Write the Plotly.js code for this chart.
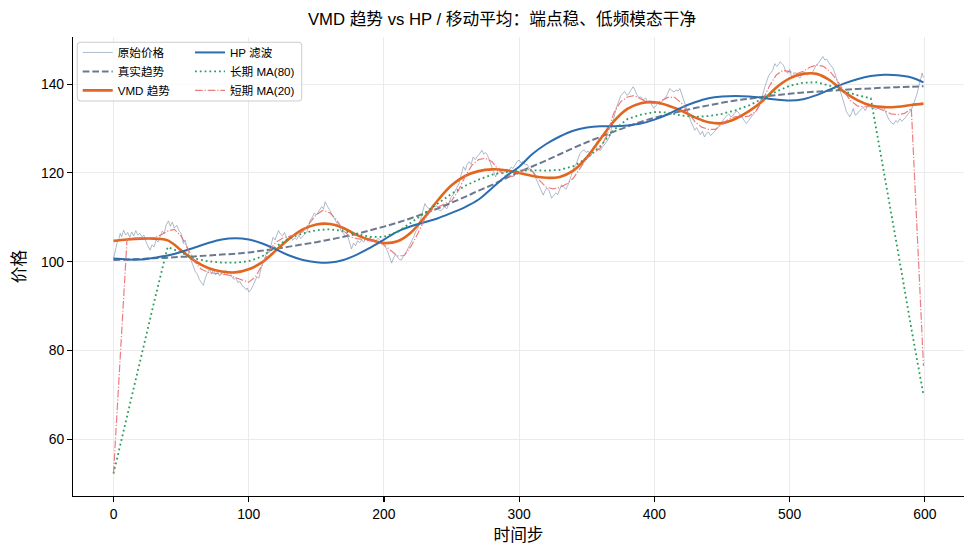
<!DOCTYPE html>
<html>
<head>
<meta charset="utf-8">
<script src="https://cdn.plot.ly/plotly-3.0.1.min.js"></script>
<style>
  html, body { margin: 0; padding: 0; background: #fff; }
  #chart { width: 975px; height: 557px; }
</style>
</head>
<body>
<div id="chart"></div>
<script>
// ---------------- data ----------------
const smoothT = [0,10,20,30,40,50,60,70,80,90,100,110,120,130,140,150,160,170,180,190,200,210,220,230,240,250,260,270,280,290,300,310,320,330,340,350,360,370,380,390,400,410,420,430,440,450,460,470,480,490,500,510,520,530,540,550,560,570,580,590,599];

const trueTrend = [100.4,100.5,100.6,100.8,100.9,101.1,101.2,101.4,101.6,101.8,102.1,102.5,102.9,103.4,103.9,104.4,105.0,105.6,106.3,107.1,107.9,108.8,109.8,110.9,112.0,113.3,114.6,116.0,117.3,118.8,120.2,121.5,122.8,124.2,125.6,126.9,128.1,129.3,130.4,131.5,132.4,133.2,133.9,134.6,135.2,135.8,136.3,136.7,137.1,137.5,137.8,138.1,138.3,138.5,138.7,138.9,139.0,139.2,139.3,139.4,139.5];

const vmdTrend = [104.7,105.0,105.2,105.2,104.8,102.6,100.2,98.6,97.8,97.6,98.3,99.9,102.5,105.2,107.3,108.4,108.5,107.6,106.0,104.9,104.2,104.6,106.6,110.0,113.9,117.2,119.3,120.4,120.8,120.6,120.0,119.3,118.9,119.1,120.5,123.5,127.6,131.6,134.4,135.7,135.9,135.2,134.0,132.5,131.4,131.2,132.2,133.9,136.2,139.2,141.3,142.3,142.3,140.8,138.3,136.4,135.2,134.8,134.9,135.3,135.6];

const hpFilter = [100.7,100.5,100.5,100.9,101.4,102.2,103.2,104.2,105.0,105.3,105.0,104.1,102.8,101.4,100.4,99.9,99.8,100.4,101.6,103.2,105.0,106.8,108.0,108.9,109.8,111.0,112.3,114.0,116.6,119.2,121.4,124.3,126.5,128.2,129.5,130.2,130.5,130.5,130.7,131.1,132.0,133.2,134.7,135.9,136.8,137.2,137.3,137.2,136.9,136.5,136.3,136.6,137.5,138.8,140.1,141.1,141.8,142.1,142.0,141.5,140.4];

const ma80T = [0,10,20,30,40,50,60,70,80,90,100,110,120,130,140,150,160,170,180,190,200,210,220,230,240,250,260,270,280,290,300,310,320,330,340,350,360,370,380,390,400,410,420,430,440,450,460,470,480,490,500,510,520,530,540,550,560,570,580,590,599];
const ma80 = [52.3,65.3,78.2,90.9,103.3,102.1,100.7,100.1,99.8,99.8,100.1,101.2,103.4,105.3,106.4,107.1,107.3,106.9,106.2,105.6,105.6,106.7,108.8,111.0,113.1,115.3,117.1,118.5,119.6,120.2,120.5,120.6,120.5,120.7,121.5,123.3,126.0,129.7,132.1,133.1,133.7,133.6,132.9,132.6,132.8,133.3,134.1,135.2,136.7,138.3,139.6,140.3,140.4,139.6,138.4,137.5,136.8,119.9,102.5,85.0,70.0];

const ma20T = [0,5,10,15,20,25,30,35,40,45,50,55,60,65,70,75,80,85,90,95,100,105,110,115,120,125,130,135,140,145,150,155,160,165,170,175,180,185,190,195,200,205,210,215,220,225,230,235,240,245,250,255,260,265,270,275,280,285,290,295,300,305,310,315,320,325,330,335,340,345,350,355,360,365,370,375,380,385,390,395,400,405,410,415,420,425,430,435,440,445,450,455,460,465,470,475,480,485,490,495,500,505,510,515,520,525,530,535,540,545,550,555,560,565,570,575,580,585,590,599];
const ma20 = [52.3,78.7,105.0,105.3,105.3,105.3,105.4,106.0,106.9,107.3,105.8,102.9,100.0,98.3,97.6,97.4,97.3,97.0,96.4,95.9,95.4,96.6,99.3,102.4,104.4,105.3,105.7,106.0,106.8,108.8,110.6,111.6,111.0,109.4,107.0,105.6,105.2,105.0,104.8,104.5,103.8,102.5,101.3,101.4,103.5,106.3,109.6,111.6,112.3,112.9,113.7,116.0,119.2,121.7,123.0,123.3,122.5,120.6,119.3,119.2,119.9,120.9,120.3,118.3,116.8,116.4,116.7,117.5,118.8,121.0,123.3,124.5,125.6,128.5,133.5,136.0,137.1,137.4,136.6,135.9,135.6,136.2,137.0,137.0,135.7,133.5,131.5,130.3,129.8,129.8,130.9,132.1,132.7,132.6,132.8,133.8,136.3,139.5,142.0,143.1,142.8,142.3,142.9,143.8,144.3,144.0,142.8,140.9,138.4,136.3,135.1,134.9,134.9,134.6,134.0,133.3,133.1,133.4,134.5,76.5];

const rawT = [0,1.5,2.5,4,5,6,7.5,9,10.5,12,13.5,15,16.5,18,19.5,21,22.5,24,25.5,27,28.5,30,31.5,33,34.5,36,37.5,39,40.7,42,43.5,45,46.8,48.5,50,51.7,53,54.5,56,57.5,59,60.5,62,63.5,65,66.5,68,69.5,71,72.5,74,75.5,77,78.5,80,81.5,83,84.5,86,87.5,89,90.5,92,93.5,95,96.5,98,99,100,101.5,103,104.5,106,107.5,109,110.5,112,113.5,115,116.5,118,119.5,121,122,123.5,125,126.5,128,129.5,131,132.5,134,135.5,137,138.5,140,141.5,143,144.5,145.5,147,148.5,150,151.5,153,154,155.3,156.5,158,159.5,161,162.5,164,165.5,167,168.5,170,171.5,173,174.5,176,177.5,179,180.5,182,183.5,185,186.5,188,189.5,191,192.5,194,195.5,197,198.5,200,201.5,203,204.5,205.7,207,208.5,210,211.5,213,214.5,216,217.5,219,220.5,222,223.5,225,226.6,228,229.3,230.3,231.5,233,234.5,236,237.5,239,240.5,242,243.5,245,246.5,248,249.5,251,252.5,254,255.5,257,258.8,260.2,261.5,263,264.5,266,267.5,269,270.5,272.4,273.8,275,276.5,278,279.5,281,282.6,284,285,286.5,288,289.5,291,292.5,294,295.5,297,298.5,300,301.5,303,304.5,306,307.5,309,310.5,312,313.5,315,316.5,317.8,319,320.5,322,323,324,325.5,327,328.5,330,331.3,333,334.5,336,337.5,339,340.5,342,343.5,345,346.5,348,349.5,351,352.5,354,355.5,357,358.5,360,361.5,363,364.5,366,367.3,368.5,369.7,371,372,373.5,375,376.5,378,379.5,381,382.5,384.3,385.5,387,388.5,390,391.7,393.5,395,396.6,398,399.5,401,402.5,404,405.5,407,408.5,410,411.4,413,414.5,416,417.5,418.8,420,421.2,422.5,424,425.5,427,428.5,429.8,431.2,432.5,434,435.5,437,438.5,440,441.5,443,444.5,446,447.5,449,450.5,452,453.5,455,456.5,458,459.5,461,462.5,464,465.5,467,468,469.5,471,472.5,474,475.5,477,478.5,480,481.5,483,484.5,486,487.5,489,490.5,492,493,494.5,495.5,497,498.5,500,501.5,503,504.5,506,507.5,509,510.5,512,513.5,515,516.5,518,519.7,521,522,523.3,524.6,526,527.5,529,530.5,532,533.5,535,536.5,538,539.5,541,542,543.5,544.5,546,547,548.5,550,551.5,553,554.3,556,557.5,559,560.5,562,563.5,565,566.5,568,569.5,571,572.5,574,575.5,577,578.5,580,581.5,583,584.5,586,587.6,589,590.5,591.5,592.5,593.8,595,596.2,597,598,599];
const rawPrice = [100.7,102.6,104.1,105.2,106.4,105.6,107.1,106.0,106.6,105.5,106.7,105.8,107.0,106.0,106.4,105.6,106.0,104.5,103.4,102.6,103.8,103.3,104.9,104.4,105.6,106.9,106.4,108.3,109.2,108.0,108.9,107.6,108.2,106.9,106.4,104.1,104.9,102.8,101.4,100.2,99.1,97.8,97.2,96.0,95.3,94.7,96.4,97.6,98.3,97.2,98.3,97.0,97.8,96.8,97.5,97.0,98.1,97.3,97.9,96.6,96.0,96.4,95.3,95.6,94.6,94.3,93.7,94.1,93.2,93.6,94.5,95.6,96.6,96.3,98.4,99.6,100.8,102.3,102.0,103.6,105.5,104.9,106.1,107.0,106.2,105.8,106.6,105.4,105.0,105.9,104.8,105.4,105.0,105.9,105.2,105.7,106.3,106.7,108.2,109.4,109.9,111.0,110.5,111.2,112.0,112.4,111.9,113.5,112.6,111.6,111.0,110.2,109.2,108.5,107.9,106.8,106.5,105.6,105.9,104.6,102.9,104.2,103.6,104.7,104.3,104.9,104.4,105.3,104.6,105.5,104.8,105.1,104.6,105.3,104.8,104.5,103.7,103.1,102.1,100.9,99.7,100.8,101.6,101.0,100.5,100.4,101.4,101.9,102.8,103.6,104.7,105.6,106.8,107.4,109.0,110.4,111.6,113.1,112.4,112.0,111.7,112.8,112.4,112.6,111.7,111.4,112.0,112.4,111.9,113.3,114.4,115.0,115.8,116.6,117.6,119.5,121.4,120.6,121.9,122.5,121.9,123.6,123.0,123.7,124.2,125.1,124.2,124.6,124.0,122.8,121.5,120.2,119.1,120.3,121.0,120.4,119.8,120.6,120.9,120.5,121.3,121.0,121.8,122.6,122.9,122.2,122.6,121.8,121.9,121.0,120.8,120.1,119.0,118.0,116.9,116.0,115.0,115.9,116.6,116.0,115.3,114.3,114.9,115.5,115.1,116.4,117.3,116.8,116.3,117.2,118.6,120.0,121.2,121.9,123.2,124.4,124.9,125.2,124.6,124.9,124.3,125.3,126.1,125.8,125.3,125.0,125.8,126.3,126.9,127.7,128.4,130.5,132.2,133.5,134.8,136.0,137.3,137.9,138.3,137.5,137.7,138.6,139.4,138.7,137.6,137.0,137.1,136.4,136.9,135.8,136.3,135.3,134.6,135.0,135.7,135.4,136.1,136.7,137.0,137.9,139.0,138.5,138.2,138.7,138.4,139.0,137.9,136.4,135.4,134.3,132.9,131.6,130.6,129.6,130.2,129.3,128.6,129.4,128.1,128.9,129.2,128.4,128.8,129.3,129.9,130.6,131.1,131.7,132.4,132.9,133.3,132.6,132.9,133.6,133.9,133.5,132.8,132.2,131.6,131.1,131.7,132.4,132.8,133.6,134.1,135.2,136.2,137.5,139.2,140.6,141.9,142.5,143.1,144.6,144.0,144.5,145.0,144.6,144.2,143.0,142.4,143.3,141.6,142.1,142.6,141.9,141.3,142.0,142.8,142.4,142.0,142.6,142.4,143.3,144.3,144.6,145.1,145.6,146.2,145.4,145.6,144.8,144.3,143.6,142.4,141.0,139.6,138.2,136.4,134.9,133.8,133.0,132.6,133.6,134.5,133.0,133.3,134.0,134.3,134.8,134.0,135.0,135.5,134.8,135.2,134.2,134.5,135.1,134.6,134.8,133.6,132.6,131.8,131.2,131.0,131.8,131.4,132.2,131.6,132.0,132.6,133.3,133.8,134.6,135.4,136.3,137.4,138.8,140.1,141.0,142.5,141.4];

const seriesNames = ['原始价格', '真实趋势', 'VMD 趋势', 'HP 滤波', '长期 MA(80)', '短期 MA(20)'];
const xTicks = [0, 100, 200, 300, 400, 500, 600];
const yTicks = [60, 80, 100, 120, 140];

// ---------------- chart ----------------
const FONT = 'Liberation Sans, Arial, "Noto Sans CJK SC", sans-serif';

const traces = [
  { x: rawT, y: rawPrice, name: seriesNames[0], type: 'scatter', mode: 'lines',
    line: { color: 'rgba(128,148,176,0.72)', width: 0.9 }, legend: 'legend' },
  { x: smoothT, y: trueTrend, name: seriesNames[1], type: 'scatter', mode: 'lines',
    line: { color: '#6c7890', width: 2, dash: '6.7px,2.9px', shape: 'spline' }, legend: 'legend' },
  { x: smoothT, y: vmdTrend, name: seriesNames[2], type: 'scatter', mode: 'lines',
    line: { color: '#e2661d', width: 2.6, shape: 'spline' }, legend: 'legend' },
  { x: smoothT, y: hpFilter, name: seriesNames[3], type: 'scatter', mode: 'lines',
    line: { color: '#2c6db2', width: 2, shape: 'spline' }, legend: 'legend2' },
  { x: ma80T, y: ma80, name: seriesNames[4], type: 'scatter', mode: 'lines',
    line: { color: '#2a9d5c', width: 1.8, dash: '1.8px,3px' }, legend: 'legend2' },
  { x: ma20T, y: ma20, name: seriesNames[5], type: 'scatter', mode: 'lines',
    line: { color: 'rgba(235,110,112,0.9)', width: 1.2, dash: '7.7px,1.9px,1.2px,1.9px' }, legend: 'legend2' }
];

// legend frame (paper coordinates)
const bx0 = 0.0048, bx1 = 0.2567, by0 = 0.8606, by1 = 0.9885, rx = 0.0034, ry = 0.0065;
const framePath = `M${bx0+rx},${by1} L${bx1-rx},${by1} Q${bx1},${by1} ${bx1},${by1-ry} L${bx1},${by0+ry} Q${bx1},${by0} ${bx1-rx},${by0} L${bx0+rx},${by0} Q${bx0},${by0} ${bx0},${by0+ry} L${bx0},${by1-ry} Q${bx0},${by1} ${bx0+rx},${by1} Z`;

const axisCommon = {
  showgrid: true, gridcolor: '#e6e6e6', gridwidth: 0.8,
  zeroline: false, showline: true, linecolor: '#000', linewidth: 1.1,
  ticks: 'outside', ticklen: 5, tickwidth: 1.1, tickcolor: '#000',
  tickfont: { size: 13.9, color: '#000', family: FONT }
};

const layout = {
  width: 975, height: 557,
  margin: { l: 73, r: 11, t: 37, b: 61 },
  paper_bgcolor: '#fff', plot_bgcolor: '#fff',
  font: { family: FONT, color: '#000' },
  title: { text: 'VMD 趋势 vs HP / 移动平均：端点稳、低频模态干净',
           font: { size: 16.7, color: '#000', family: FONT },
           x: 502 / 975, xref: 'container', xanchor: 'center',
           y: 1 - 19 / 557, yref: 'container', yanchor: 'middle' },
  xaxis: Object.assign({}, axisCommon, {
    range: [-29.95, 628.95], tickvals: xTicks, ticktext: xTicks.map(String),
    title: { text: '时间步', font: { size: 16.7, color: '#000', family: FONT }, standoff: 8 }
  }),
  yaxis: Object.assign({}, axisCommon, {
    range: [47.25, 150.6], tickvals: yTicks, ticktext: yTicks.map(String),
    title: { text: '价格', font: { size: 16.7, color: '#000', family: FONT }, standoff: 11 }
  }),
  showlegend: true,
  legend: { x: 0.0053, xanchor: 'left', y: 0.998, yanchor: 'top',
            bgcolor: 'rgba(0,0,0,0)', borderwidth: 0,
            font: { size: 11.6, color: '#000', family: FONT } },
  legend2: { x: 0.1313, xanchor: 'left', y: 0.998, yanchor: 'top',
            bgcolor: 'rgba(0,0,0,0)', borderwidth: 0,
            font: { size: 11.6, color: '#000', family: FONT } },
  shapes: [{ type: 'path', xref: 'paper', yref: 'paper', path: framePath,
             fillcolor: 'rgba(255,255,255,0.8)', line: { color: '#cccccc', width: 1 },
             layer: 'above' }]
};

Plotly.newPlot('chart', traces, layout, { displayModeBar: false, staticPlot: true });
</script>
</body>
</html>
